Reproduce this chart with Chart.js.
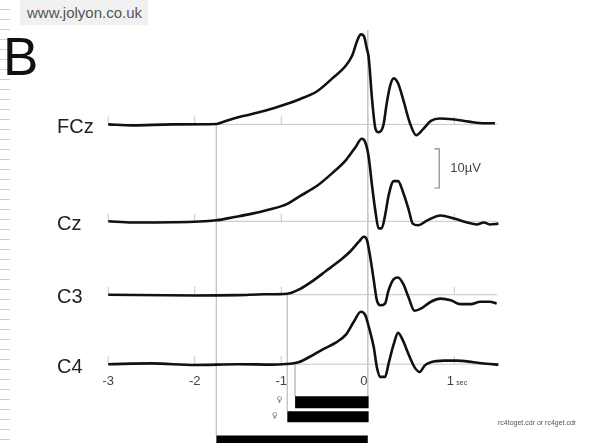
<!DOCTYPE html>
<html>
<head>
<meta charset="utf-8">
<script src="https://cdn.jsdelivr.net/npm/chart.js@4/dist/chart.umd.min.js"></script>
<style>
html, body { margin: 0; padding: 0; background: #fff; width: 592px; height: 443px; overflow: hidden; }
#wrap { position: relative; width: 592px; height: 443px; overflow: hidden; }
#ruler { position: absolute; left: 0; top: 0; width: 10px; height: 443px;
  background: repeating-linear-gradient(to bottom, transparent 0 9px, #cfcfcf 9px 10px); }
#head { position: absolute; left: 20px; top: 0; width: 128px; height: 25px; background: #f1f1f1;
  font: 15px "Liberation Sans", sans-serif; color: #555; line-height: 26px; padding-left: 7px; box-sizing: border-box; }
#big { position: absolute; left: 3px; top: 30px; font: 53px/53px "Liberation Sans", sans-serif; color: #111; }
#file { position: absolute; left: 498px; top: 419px; font: 7px "Liberation Sans", sans-serif; color: #555; white-space: nowrap; }
canvas { position: absolute; left: 0; top: 0; }
</style>
</head>
<body>
<div id="wrap">
  <canvas id="c" width="592" height="470"></canvas>
  <div id="ruler"></div>
  <div id="head">www.jolyon.co.uk</div>
  <div id="big">B</div>
  <div id="file">rc4toget.cdr or rc4get.cdr</div>
</div>
<script>
// time in sec, amplitude in µV relative to each channel's baseline
const channels = ['FCz', 'Cz', 'C3', 'C4'];
const offsets = [61.25, 36.5, 17.75, 0];

const fcz = [[-3,0],[-2.72,-0.25],[-2.26,0],[-1.75,0.1],[-1.69,0.5],[-1.55,1.5],[-1.35,2.6],[-1.16,3.7],
  [-1.01,4.7],[-0.78,6.5],[-0.59,8.4],[-0.41,11.75],[-0.25,15.1],[-0.18,17.6],[-0.12,21.5],[-0.08,23],
  [-0.045,22.6],[-0.01,19.25],[0.01,17.25],[0.05,6.3],[0.09,-1.2],[0.125,-2],[0.18,-0.25],[0.22,5.5],
  [0.26,10],[0.3,11.75],[0.35,10.5],[0.41,6.3],[0.485,0.5],[0.56,-2.75],[0.64,-1.2],[0.73,0.9],
  [0.83,1.5],[0.98,1.3],[1.17,0.7],[1.35,0.3],[1.47,0.3]];

const cz = [[-3,0],[-2.72,-0.3],[-2.26,-0.25],[-1.75,0.25],[-1.54,1.1],[-1.35,1.9],[-1.16,2.9],[-0.935,4.4],
  [-0.78,6.5],[-0.59,9],[-0.41,12.3],[-0.25,15.7],[-0.14,19],[-0.07,21.1],[-0.03,20.25],[0.01,16.5],
  [0.05,9],[0.09,2.3],[0.125,-1.8],[0.16,-1.8],[0.2,1.5],[0.24,6.5],[0.3,10.25],[0.35,10.25],[0.41,7.3],
  [0.47,3.2],[0.52,-0.6],[0.58,-1],[0.69,0.25],[0.84,1.5],[1.0,0.7],[1.15,-0.3],[1.26,-0.8],[1.34,-0.3],
  [1.41,-0.8],[1.51,-0.6]];

const c3 = [[-3,0],[-2.0,-0.2],[-1.5,-0.1],[-1.2,0.1],[-0.93,0.25],[-0.78,1.5],[-0.63,3.6],[-0.48,6.1],
  [-0.33,8.6],[-0.2,11.1],[-0.1,13.6],[-0.045,14.8],[-0.01,14],[0.03,9.4],[0.07,3.6],[0.105,-1.4],
  [0.145,-2.7],[0.2,-2.25],[0.24,1.1],[0.3,4],[0.35,4.4],[0.41,2.75],[0.47,-0.6],[0.54,-4.1],[0.62,-3.5],
  [0.73,-1.8],[0.84,-1],[0.96,-1.4],[1.07,-2.4],[1.19,-2.4],[1.3,-1.8],[1.41,-1.8],[1.49,-2.25]];

const c4 = [[-3,0],[-2.5,0.2],[-2,-0.2],[-1.5,0],[-1.1,-0.1],[-0.9,0.1],[-0.8,0.5],[-0.67,1.9],[-0.52,3.8],
  [-0.37,5.5],[-0.25,7.6],[-0.16,10.9],[-0.08,13.4],[-0.03,12.6],[0.01,9.7],[0.07,4.25],[0.105,-0.75],
  [0.145,-3.25],[0.2,-3.25],[0.24,0.1],[0.3,5.1],[0.35,8],[0.41,5.9],[0.47,2.6],[0.54,-0.75],[0.6,-2],
  [0.66,-0.3],[0.73,0.5],[0.88,0.9],[1.03,0.9],[1.22,0.5],[1.375,0.1],[1.51,-0.1]];

const traces = [fcz, cz, c3, c4];
const axisTicks = [-3, -2, -1, 0, 1];
const timeSpan = [-3, 1.5];

// black bars under the axis: onset (s) to end (s), guide rises to channel baseline
const barStart = [-0.84, -0.93, -1.75];
const barEnd = [0.01, 0.01, 0.0];
const barFrom = ['C4', 'C3', 'FCz'];
const scaleBarUV = 10;

// layout (µV units on the shared y scale, px elsewhere)
const barRow = [-9.75, -13.4, -19.75];
const barThick = [12, 11, 12];
const barTop = [-8.25, -12, -18.25];
const zeroTop = 85.25;
const scaleBarX = [0.77, 0.826];
const scaleBarBottom = 45;
const labelLevel = -4.5;

const GRAY = '#c6c6c6';
const seg = (pts, color, width, order, extra) => Object.assign({
  data: pts, showLine: true, borderColor: color, backgroundColor: color,
  borderWidth: width, pointRadius: 0, order: order
}, extra || {});

const datasets = [];
traces.forEach((tr, i) => {
  datasets.push(seg(tr.map(p => ({x: p[0], y: p[1] + offsets[i]})), '#111', 2.6, 0,
    {cubicInterpolationMode: 'monotone'}));
  datasets.push(seg([{x: timeSpan[0], y: offsets[i]}, {x: timeSpan[1], y: offsets[i]}], GRAY, 1, 2));
  datasets.push({data: axisTicks.map(t => ({x: t, y: offsets[i] + 1})), showLine: false,
    pointStyle: 'line', rotation: 90, pointRadius: 4, borderColor: GRAY, borderWidth: 1, order: 2});
});
barStart.forEach((s, i) => {
  const base = offsets[channels.indexOf(barFrom[i])];
  datasets.push(seg([{x: s, y: base}, {x: s, y: barTop[i]}], GRAY, 1, 2));
  datasets.push(seg([{x: s, y: barRow[i]}, {x: barEnd[i], y: barRow[i]}], '#000', barThick[i], 1,
    {borderCapStyle: 'butt'}));
});
datasets.push(seg([{x: 0, y: zeroTop}, {x: 0, y: barTop[0]}], GRAY, 1, 2));
datasets.push(seg([
  {x: scaleBarX[0], y: scaleBarBottom + scaleBarUV}, {x: scaleBarX[1], y: scaleBarBottom + scaleBarUV},
  {x: scaleBarX[1], y: scaleBarBottom}, {x: scaleBarX[0], y: scaleBarBottom}], '#8a8a8a', 1.2, 1));

const textPlugin = {
  id: 'texts',
  afterDatasetsDraw(chart) {
    const {ctx, scales: {x, y}} = chart;
    ctx.save();
    ctx.textBaseline = 'middle';
    ctx.fillStyle = '#222';
    ctx.font = '20px "Liberation Sans", sans-serif';
    channels.forEach((c, i) => ctx.fillText(c, 57, y.getPixelForValue(offsets[i]) + 3));

    ctx.fillStyle = '#444';
    ctx.font = '13px "Liberation Sans", sans-serif';
    ctx.textAlign = 'center';
    const ly = y.getPixelForValue(labelLevel);
    axisTicks.forEach(t => ctx.fillText(String(t), x.getPixelForValue(t) + (t >= 0 ? -4 : 0), ly));
    ctx.textAlign = 'left';
    ctx.font = '7px "Liberation Sans", sans-serif';
    ctx.fillText('sec', x.getPixelForValue(1) + 2, ly + 1);

    ctx.font = '13px "Liberation Sans", sans-serif';
    ctx.fillText(scaleBarUV + 'µV', x.getPixelForValue(scaleBarX[1]) + 11,
      y.getPixelForValue(scaleBarBottom + scaleBarUV / 2));

    ctx.fillStyle = '#777';
    ctx.font = '8px "DejaVu Sans", sans-serif';
    ctx.textAlign = 'center';
    ctx.fillText('♀', x.getPixelForValue(barStart[0]) - 16, y.getPixelForValue(barRow[0]) - 2);
    ctx.fillText('♀', x.getPixelForValue(barStart[1]) - 13, y.getPixelForValue(barRow[1]) - 1);
    ctx.restore();
  }
};

new Chart(document.getElementById('c'), {
  type: 'scatter',
  data: {datasets},
  options: {
    responsive: false,
    animation: false,
    layout: {padding: 0},
    plugins: {legend: {display: false}, tooltip: {enabled: false}},
    scales: {
      x: {type: 'linear', display: false, min: -369 / 88, max: (592 - 369) / 88},
      y: {type: 'linear', display: false, min: -25.75, max: 91.75}
    }
  },
  plugins: [textPlugin]
});
</script>
</body>
</html>
